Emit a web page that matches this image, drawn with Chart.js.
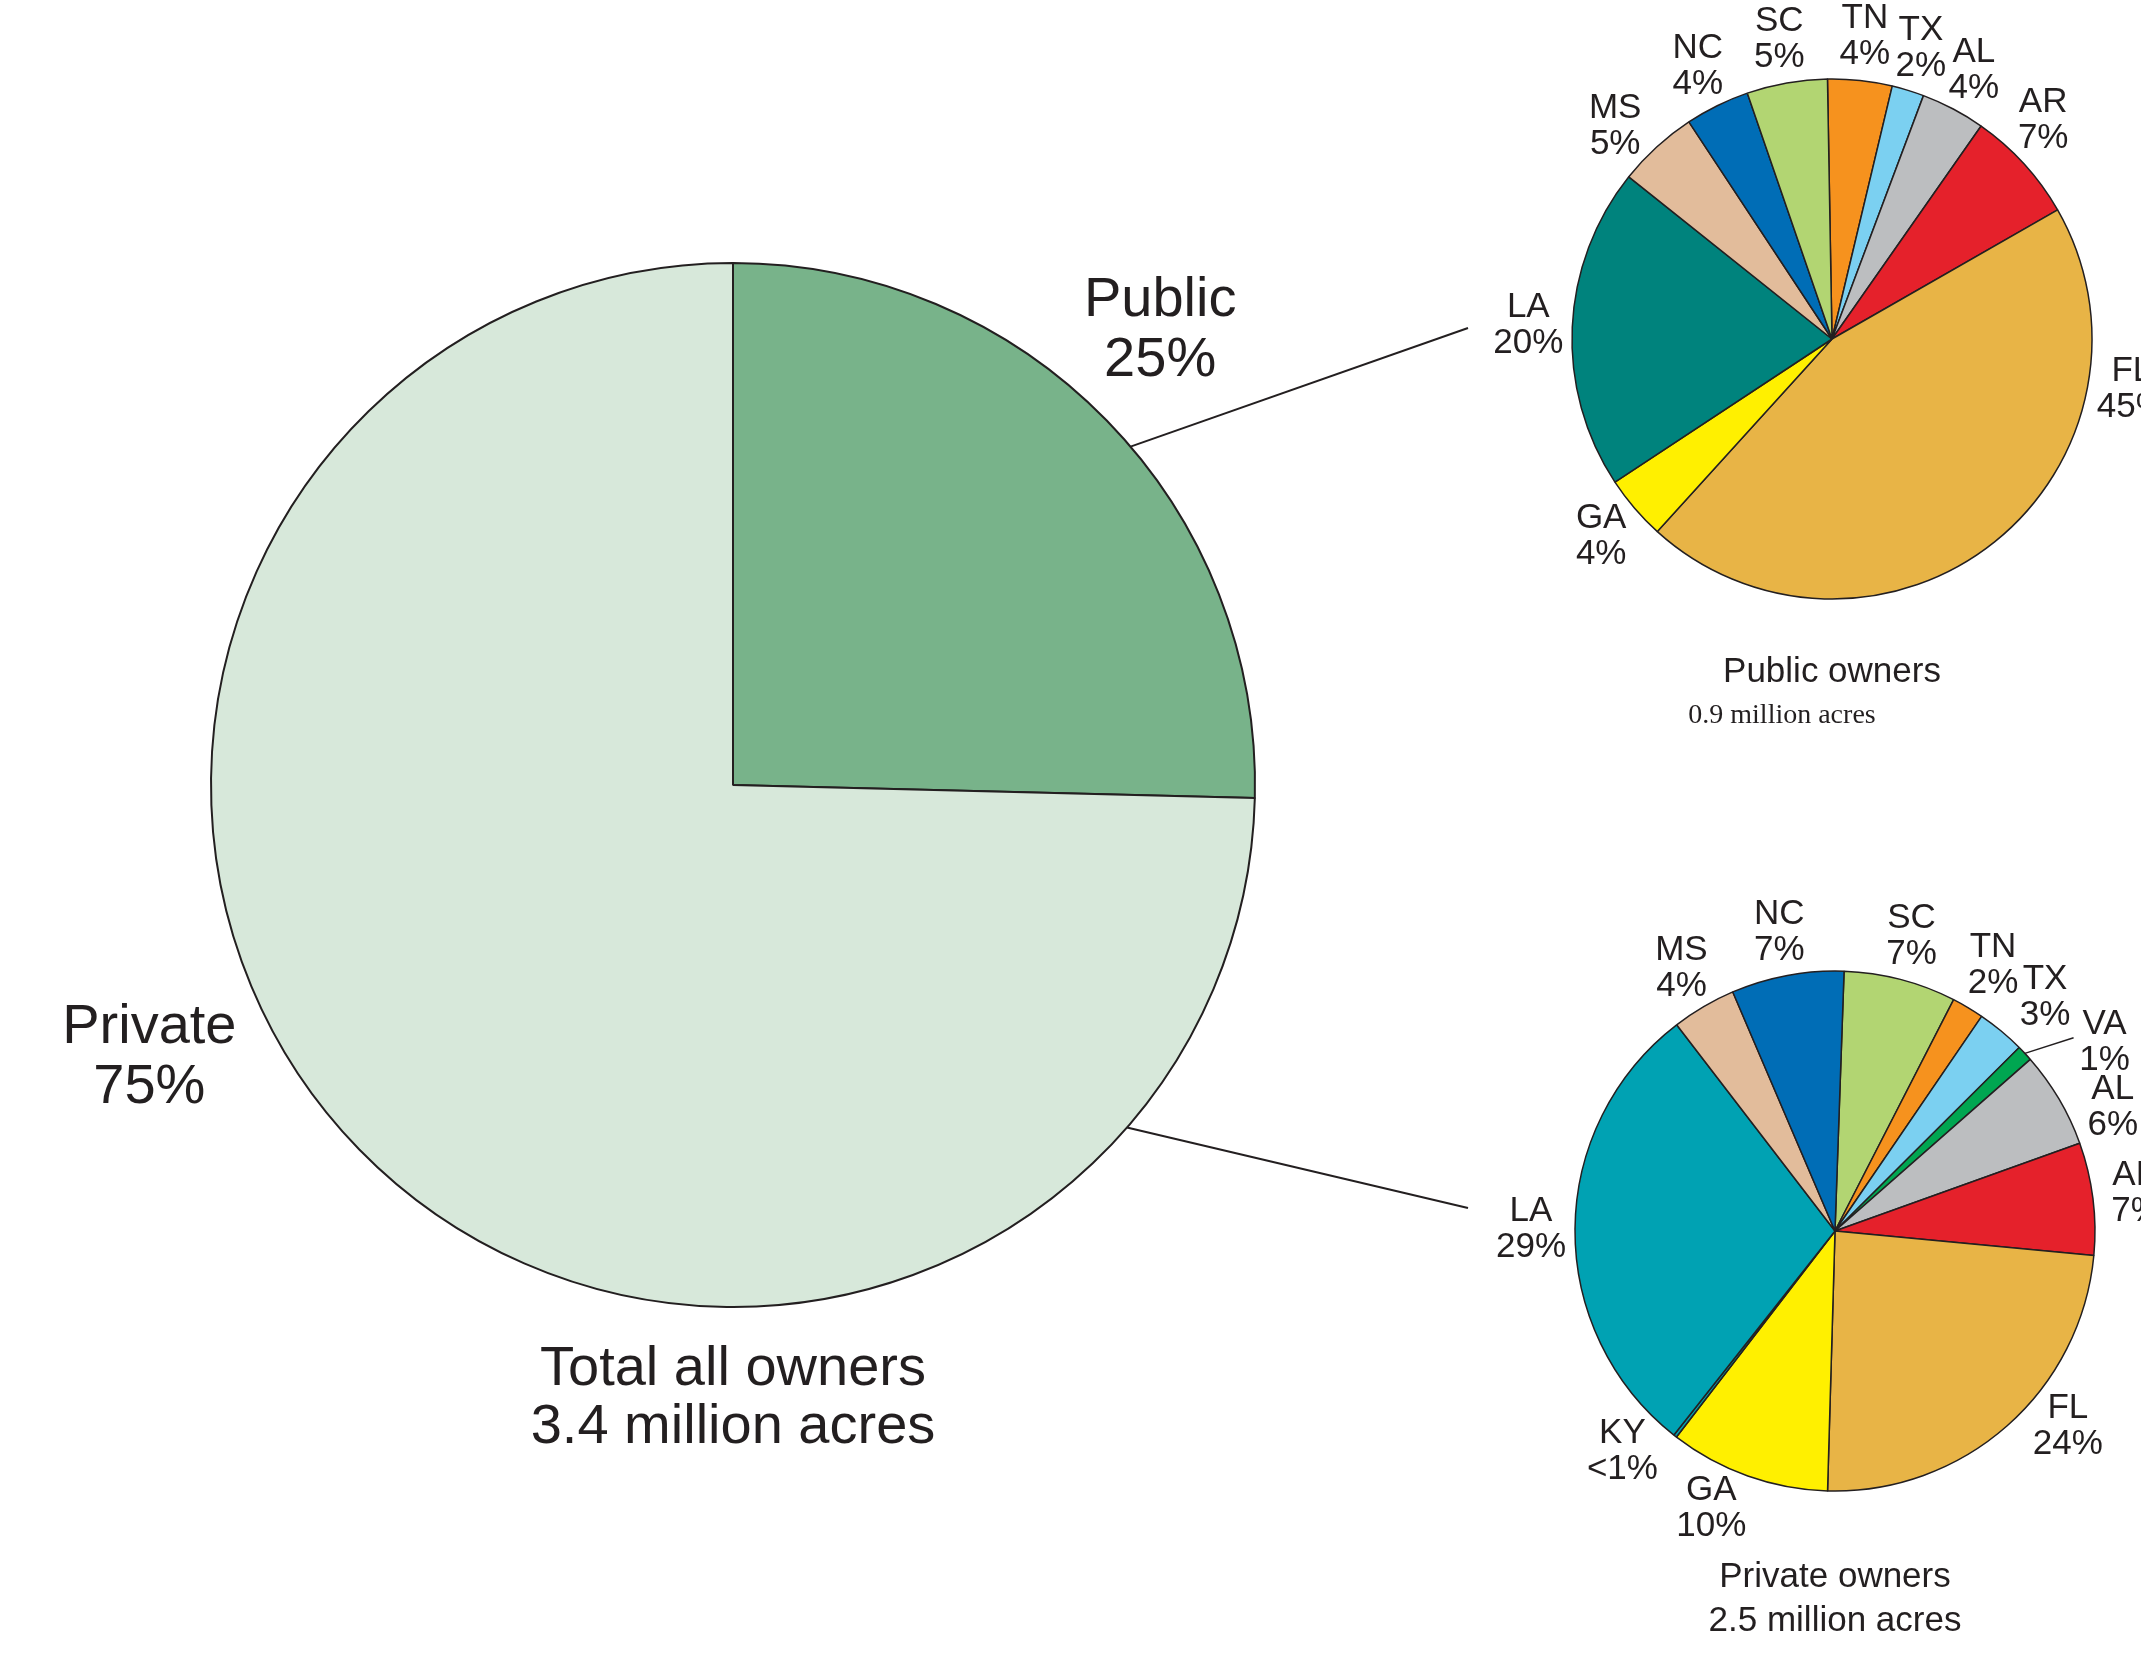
<!DOCTYPE html>
<html>
<head>
<meta charset="utf-8">
<title>Ownership by state</title>
<script src="https://cdn.jsdelivr.net/npm/chart.js@4.4.1/dist/chart.umd.min.js"></script>
<style>
  html, body { margin: 0; padding: 0; background: #ffffff; }
  #stage { position: relative; width: 2141px; height: 1662px; overflow: hidden; }
  #stage canvas { position: absolute; left: 0; top: 0; }
</style>
</head>
<body>
<div id="stage">
  <canvas id="totalChart" width="2141" height="1662"></canvas>
  <canvas id="publicChart" width="2141" height="1662"></canvas>
  <canvas id="privateChart" width="2141" height="1662"></canvas>
</div>
<script>
// Datos: total por tipo de propietario
const totalLabels = ['Public', 'Private'];
const totalValues = [25.4, 74.6];
const totalPctText = ['25%', '75%'];
const totalColors = ['#78b38a', '#d7e8da'];

// Propietarios públicos por estado (en sentido horario desde arriba)
const publicStates = ['TN', 'TX', 'AL', 'AR', 'FL', 'GA', 'LA', 'MS', 'NC', 'SC'];
const publicShares = [4, 2, 4, 7, 45, 4, 20, 5, 4, 5];
const publicPctText = ['4%', '2%', '4%', '7%', '45%', '4%', '20%', '5%', '4%', '5%'];
const publicColors = ['#f6921e', '#7bd0f1', '#bcbec0', '#e5212b', '#e8b446', '#fff000',
                      '#00837d', '#e2bc9b', '#006db6', '#b2d572'];

// Propietarios privados por estado
const privateStates = ['SC', 'TN', 'TX', 'VA', 'AL', 'AR', 'FL', 'GA', 'KY', 'LA', 'MS', 'NC'];
const privateShares = [7, 2, 3, 1, 6, 7, 24, 10, 0.2, 29, 4, 7];
const privatePctText = ['7%', '2%', '3%', '1%', '6%', '7%', '24%', '10%', '<1%', '29%', '4%', '7%'];
const privateColors = ['#b2d572', '#f6921e', '#7bd0f1', '#00a651', '#bcbec0', '#e5212b',
                       '#e8b446', '#fff000', '#00a2b3', '#00a2b3', '#e2bc9b', '#006db6'];

const W = 2141, H = 1662;
const INK = '#231f20';
const SANS = '"Liberation Sans", Arial, Helvetica, sans-serif';

// Posición de cada pastel en la página
const layout = {
    total: { cx: 733, cy: 785, r: 522 },
    public: { cx: 1832, cy: 339, r: 260 },
    private: { cx: 1835, cy: 1231, r: 260 }
};

// rumbo (grados desde el norte, sentido horario) -> ángulo del canvas
const toAngle = deg => (deg - 90) * Math.PI / 180;

function makePieText(cfg) {
    return {
        id: 'pieText',
        afterDatasetsDraw(chart) {
            const ctx = chart.ctx;
            const arcs = chart.getDatasetMeta(0).data;
            if (!arcs.length) return;
            const { x: cx, y: cy, outerRadius: r } = arcs[0].getProps(['x', 'y', 'outerRadius'], true);
            ctx.save();
            ctx.fillStyle = INK;
            ctx.strokeStyle = INK;
            ctx.textAlign = 'center';
            ctx.textBaseline = 'middle';

            // conectores hacia los pasteles pequeños
            (cfg.connectors || []).forEach(c => {
                const a = toAngle(c.bearing);
                ctx.lineWidth = 2;
                ctx.beginPath();
                ctx.moveTo(cx + Math.cos(a) * r, cy + Math.sin(a) * r);
                ctx.lineTo(c.to[0], c.to[1]);
                ctx.stroke();
            });

            ctx.font = cfg.font;
            arcs.forEach((arc, i) => {
                const name = chart.data.labels[i];
                const p = arc.getProps(['startAngle', 'endAngle'], true);
                const mid = (p.startAngle + p.endAngle) / 2;
                const place = (cfg.place || {})[name] || {};
                const a = place.bearing !== undefined ? toAngle(place.bearing) : mid;
                const d = r + (place.gap !== undefined ? place.gap : cfg.gap);
                const lx = cx + Math.cos(a) * d;
                const ly = cy + Math.sin(a) * d;
                if (place.leader) {
                    const b = toAngle(place.leader.bearing);
                    const e = r + place.leader.gap;
                    ctx.lineWidth = 1.5;
                    ctx.beginPath();
                    ctx.moveTo(cx + Math.cos(mid) * r, cy + Math.sin(mid) * r);
                    ctx.lineTo(cx + Math.cos(b) * e, cy + Math.sin(b) * e);
                    ctx.stroke();
                }
                ctx.fillText(name, lx, ly - cfg.lineHeight / 2);
                ctx.fillText(cfg.values[i], lx, ly + cfg.lineHeight / 2);
            });

            // títulos bajo cada pastel
            (cfg.titles || []).forEach(t => {
                ctx.font = t.font || cfg.font;
                ctx.fillText(t.text, cx + (t.dx || 0), cy + r + t.dy);
            });
            ctx.restore();
        }
    };
}

function pieChart(id, pos, labels, values, colors, border, rotation, text) {
    return new Chart(document.getElementById(id), {
        type: 'pie',
        data: {
            labels: labels,
            datasets: [{
                data: values,
                backgroundColor: colors,
                borderColor: INK,
                borderWidth: border
            }]
        },
        options: {
            responsive: false,
            animation: false,
            devicePixelRatio: 1,
            events: [],
            rotation: rotation,
            radius: pos.r,
            layout: {
                padding: {
                    left: pos.cx - pos.r,
                    right: W - pos.cx - pos.r,
                    top: pos.cy - pos.r,
                    bottom: H - pos.cy - pos.r
                }
            },
            plugins: {
                legend: { display: false },
                tooltip: { enabled: false }
            }
        },
        plugins: [makePieText(text)]
    });
}

const pub = layout.public, prv = layout.private;

pieChart('totalChart', layout.total, totalLabels, totalValues, totalColors, 2, 0, {
    font: '56px ' + SANS,
    lineHeight: 60,
    gap: 110,
    values: totalPctText,
    place: { Public: { bearing: 43.2, gap: 102 }, Private: { bearing: 245, gap: 122 } },
    titles: [
        { text: 'Total all owners', dy: 63 },
        { text: '3.4 million acres', dy: 121 }
    ],
    connectors: [
        { bearing: 49.6, to: [pub.cx - 364, pub.cy - 11] },
        { bearing: 131, to: [prv.cx - 367, prv.cy - 23] }
    ]
});

pieChart('publicChart', pub, publicStates, publicShares, publicColors, 1.5, -1, {
    font: '35px ' + SANS,
    lineHeight: 36,
    gap: 44,
    values: publicPctText,
    place: { FL: { bearing: 99.5 }, AR: { bearing: 44 }, MS: { bearing: 314.5 } },
    titles: [
        { text: 'Public owners', dy: 73 },
        { text: '0.9 million acres', dy: 117, dx: -50, font: '28px "Liberation Serif", "DejaVu Serif", serif' }
    ]
});

pieChart('privateChart', prv, privateStates, privateShares, privateColors, 1.5, 2, {
    font: '35px ' + SANS,
    lineHeight: 36,
    gap: 44,
    values: privatePctText,
    place: {
        TN: { gap: 49 },
        TX: { bearing: 42, gap: 54 },
        VA: { bearing: 55, gap: 69, leader: { bearing: 51, gap: 47 } },
        AL: { bearing: 66 },
        FL: { bearing: 130 },
        GA: { bearing: 204 },
        KY: { bearing: 224, gap: 46 }
    },
    titles: [
        { text: 'Private owners', dy: 86 },
        { text: '2.5 million acres', dy: 130 }
    ]
});
</script>
</body>
</html>
